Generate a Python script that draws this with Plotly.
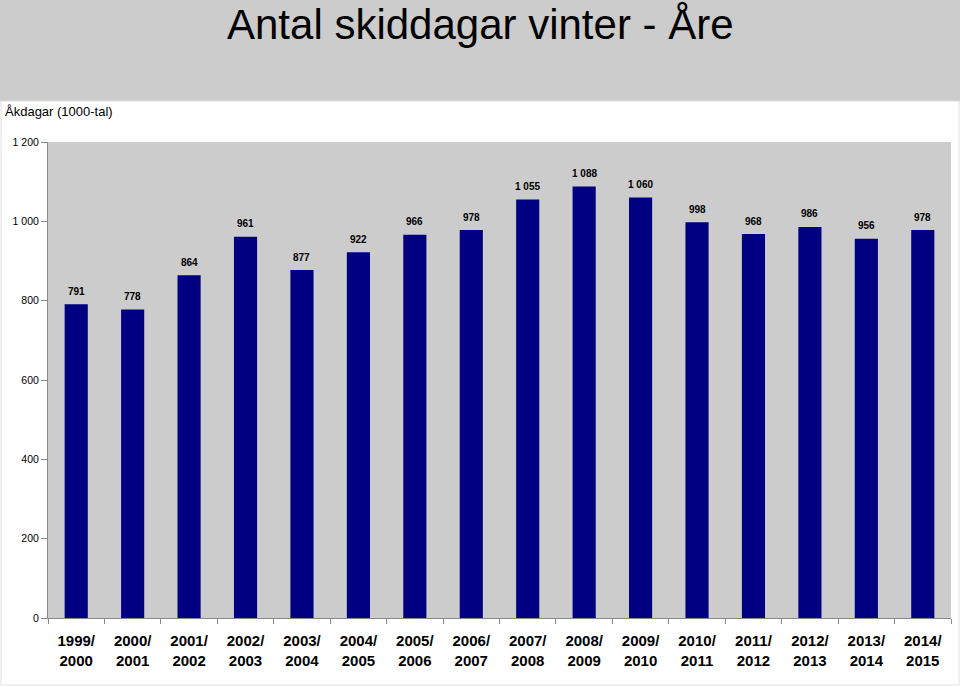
import plotly.graph_objects as go

seasons = ["1999/<br>2000", "2000/<br>2001", "2001/<br>2002", "2002/<br>2003",
           "2003/<br>2004", "2004/<br>2005", "2005/<br>2006", "2006/<br>2007",
           "2007/<br>2008", "2008/<br>2009", "2009/<br>2010", "2010/<br>2011",
           "2011/<br>2012", "2012/<br>2013", "2013/<br>2014", "2014/<br>2015"]
ski_days = [791, 778, 864, 961, 877, 922, 966, 978, 1055, 1088, 1060, 998, 968, 986, 956, 978]
y_ticks = [0, 200, 400, 600, 800, 1000, 1200]
y_tick_labels = ["0", "200", "400", "600", "800", "1 000", "1 200"]

W, H = 960, 687
ml, mr, mt, mb = 48, 9, 142, 69
pw, ph = W - ml - mr, H - mt - mb

def px_x(x):
    return (x - ml) / pw

def px_y(y):
    return (H - mb - y) / ph

FONT = "Liberation Sans, Arial, sans-serif"

fig = go.Figure()
fig.add_trace(go.Bar(
    x=seasons, y=ski_days,
    marker=dict(color="#000080", line=dict(width=0)),
    hoverinfo="skip",
))

for s, v in zip(seasons, ski_days):
    fig.add_annotation(
        x=s, y=v, xref="x", yref="y",
        text="<b>" + f"{v:,}".replace(",", " ") + "</b>",
        showarrow=False, yanchor="middle", yshift=13,
        font=dict(family=FONT, size=10, color="#000000"),
    )

# gray header band
fig.add_shape(type="rect", xref="paper", yref="paper",
              x0=px_x(0), x1=px_x(W), y0=px_y(101), y1=px_y(0),
              fillcolor="#cccccc", line=dict(width=0), layer="below")
# faint border around white area
fig.add_shape(type="rect", xref="paper", yref="paper",
              x0=px_x(1), x1=px_x(W - 1), y0=px_y(H - 2), y1=px_y(101),
              fillcolor="rgba(0,0,0,0)", line=dict(width=1, color="#e0e0e0"), layer="below")

fig.add_annotation(
    xref="paper", yref="paper", x=px_x(480), y=px_y(24),
    text="Antal skiddagar vinter - Åre", showarrow=False,
    xanchor="center", yanchor="middle",
    font=dict(family=FONT, size=42, color="#000000"),
)
fig.add_annotation(
    xref="paper", yref="paper", x=px_x(3), y=px_y(111),
    text="Åkdagar (1000-tal)", showarrow=False,
    xanchor="left", yanchor="middle",
    font=dict(family=FONT, size=13, color="#000000"),
)

fig.update_layout(
    width=W, height=H,
    margin=dict(l=ml, r=mr, t=mt, b=mb, pad=0),
    paper_bgcolor="#ffffff",
    plot_bgcolor="#cccccc",
    showlegend=False,
    bargap=0.59,
    font=dict(family=FONT, color="#000000"),
)
fig.update_xaxes(
    type="category", tickson="boundaries", ticks="outside", ticklen=5,
    tickcolor="#888888", showline=True, linecolor="#888888", linewidth=1,
    showgrid=False, zeroline=False, ticklabelstandoff=9,
    tickfont=dict(family=FONT, size=15, color="#000000", weight="bold"),
)
fig.update_yaxes(
    range=[0, 1200], tickvals=y_ticks, ticktext=y_tick_labels,
    ticks="outside", ticklen=6, tickcolor="#888888",
    showline=True, linecolor="#888888", linewidth=1,
    showgrid=False, zeroline=False,
    tickfont=dict(family=FONT, size=10.5, color="#000000"),
)

fig.write_html("out.html")
